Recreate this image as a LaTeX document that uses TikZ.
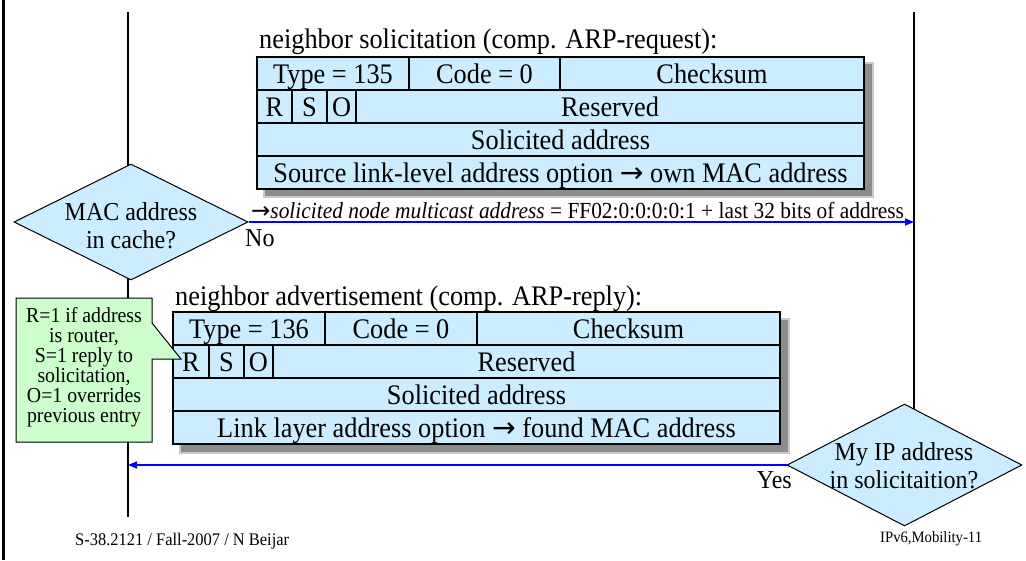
\documentclass[tikz,border=0pt]{standalone}
\usepackage{fontspec}
\setmainfont[FakeStretch=0.93]{Liberation Serif}
\newfontfamily\symfont{DejaVu Sans}
\usetikzlibrary{shapes.geometric,arrows.meta}
\definecolor{pktblue}{HTML}{CCECFF}
\definecolor{notegreen}{HTML}{CCFFCC}
\definecolor{arrowblue}{HTML}{0000FF}
\definecolor{shadowgray}{HTML}{8C8C8C}
\newcommand{\arr}{{\symfont\char"2192}}
\begin{document}
\begin{tikzpicture}[x=1pt,y=-1pt,
  cell/.style={draw=black, line width=1.2pt, fill=pktblue, inner sep=0pt, outer sep=0pt,
    anchor=north west, minimum height=33pt, text height=22pt, text depth=3pt,
    font=\fontsize{28.3}{30}\selectfont},
  lifeline/.style={line width=1.3pt, black},
  msg/.style={draw=arrowblue, line width=1.4pt, -{Triangle[length=9pt,width=7pt,fill=arrowblue]}},
  decision/.style={diamond, draw=black, line width=1pt, fill=pktblue, inner sep=0pt,
    minimum width=234pt, minimum height=116pt},
  dtext/.style={align=center, font=\fontsize{25.8}{28}\selectfont, inner sep=0pt},
  pktlabel/.style={anchor=base west, inner sep=0pt, font=\fontsize{28.3}{30}\selectfont},
  plain/.style={inner sep=0pt},
  shadowbox/.style={fill=shadowgray},
  shadowrim/.style={fill=shadowgray!45},
]
\useasboundingbox (0,0) rectangle (1026,560);
\fill[white] (0,0) rectangle (1026,560);

% left border
\coordinate (btop) at (3.5,0);
\coordinate (bbot) at (3.5,560);
\draw[line width=3pt] (btop) -- (bbot);

% lifelines
\coordinate (l1top) at (128,12);
\coordinate (l1bot) at (128,517);
\coordinate (l2top) at (914,12);
\coordinate (l2bot) at (914,430);
\draw[lifeline] (l1top) -- (l1bot);
\draw[lifeline] (l2top) -- (l2bot);

% ---------------- upper packet: neighbor solicitation
\node[pktlabel] (nslabel) at (259,48) {neighbor solicitation (comp. ARP-request):};
\fill[shadowrim] (263,62) rectangle (874,198);
\fill[shadowbox] (265,64) rectangle (872,196);
\begin{scope}[shift={(257,57)}]
  \node[cell, minimum width=152pt] (ua1) at (0,0) {Type = 135};
  \node[cell, minimum width=151pt] (ua2) at (152,0) {Code = 0};
  \node[cell, minimum width=304pt] (ua3) at (303,0) {Checksum};
  \node[cell, minimum width=35pt] (ub1) at (0,33) {R};
  \node[cell, minimum width=35pt] (ub2) at (35,33) {S};
  \node[cell, minimum width=29pt] (ub3) at (70,33) {O};
  \node[cell, minimum width=508pt] (ub4) at (99,33) {Reserved};
  \node[cell, minimum width=607pt] (uc) at (0,66) {Solicited address};
  \node[cell, minimum width=607pt] (ud) at (0,99) {Source link-level address option \arr{} own MAC address};
\end{scope}

% ---------------- lower packet: neighbor advertisement
\node[pktlabel] (nalabel) at (175,305) {neighbor advertisement (comp. ARP-reply):};
\fill[shadowrim] (179,318) rectangle (790,454);
\fill[shadowbox] (181,320) rectangle (788,452);
\begin{scope}[shift={(173,312)}]
  \node[cell, minimum width=152pt] (la1) at (0,0) {Type = 136};
  \node[cell, minimum width=152pt] (la2) at (152,0) {Code = 0};
  \node[cell, minimum width=303pt] (la3) at (304,0) {Checksum};
  \node[cell, minimum width=36pt] (lb1) at (0,33) {R};
  \node[cell, minimum width=35pt] (lb2) at (36,33) {S};
  \node[cell, minimum width=29pt] (lb3) at (71,33) {O};
  \node[cell, minimum width=507pt] (lb4) at (100,33) {Reserved};
  \node[cell, minimum width=607pt] (lc) at (0,66) {Solicited address};
  \node[cell, minimum width=607pt] (ld) at (0,99) {Link layer address option \arr{} found MAC address};
\end{scope}

% ---------------- decision 1
\node[decision] (d1) at (131,222) {};
\node[dtext] (d1t) at (131,226) {MAC address\\in cache?};
\coordinate (a1end) at (914,222);
\draw[msg] (d1.east) -- (a1end);
\node[anchor=base west, inner sep=0pt, font=\fontsize{23}{24}\selectfont] (a1lab) at (251,218)
  {\arr\textit{solicited node multicast address} = FF02:0:0:0:0:1 + last 32 bits of address};
\node[anchor=base west, inner sep=0pt, font=\fontsize{25.8}{28}\selectfont] (nolab) at (245,246) {No};

% ---------------- decision 2
\node[decision, minimum width=235pt, minimum height=122pt] (d2) at (904.5,465) {};
\node[dtext] (d2t) at (904,466) {My IP address\\in solicitaition?};
\coordinate (a2end) at (128,465);
\draw[msg] (d2.west) -- (a2end);
\node[anchor=base east, inner sep=0pt, font=\fontsize{25.8}{28}\selectfont] (yeslab) at (792,488) {Yes};

% ---------------- callout note
\filldraw[fill=notegreen, draw=black, line width=1pt]
  (16,298) -- (152,298) -- (152,323) -- (181,359) -- (152,359) -- (152,442) -- (16,442) -- cycle;
\node[plain, align=center, font=\fontsize{21.3}{20}\selectfont] (note) at (84,367)
  {R=1 if address\\is router,\\S=1 reply to\\solicitation,\\O=1 overrides\\previous entry};

% ---------------- footer
\node[anchor=base west, inner sep=0pt, font=\fontsize{17.7}{18}\selectfont] (foot1) at (75,545)
  {S-38.2121 / Fall-2007 / N Beijar};
\node[anchor=base west, inner sep=0pt, font=\fontsize{15.8}{16}\selectfont] (foot2) at (880,542)
  {IPv6,Mobility-11};
\end{tikzpicture}
\end{document}
